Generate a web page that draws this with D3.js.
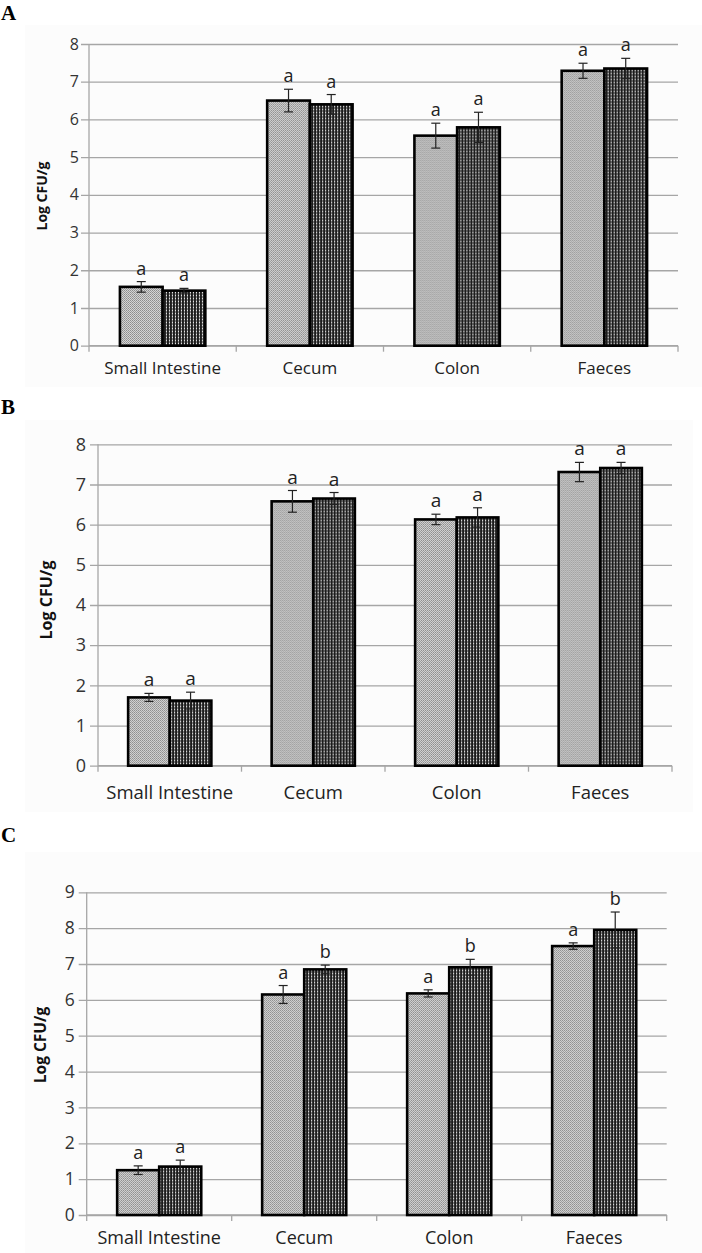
<!DOCTYPE html>
<html>
<head>
<meta charset="utf-8">
<script src="https://cdn.jsdelivr.net/npm/d3@7"></script>
<style>
  body { margin: 0; background: #fff; }
  svg { display: block; }
</style>
</head>
<body>
<div id="box"></div>
<script>
'use strict';

var categories = ["Small Intestine", "Cecum", "Colon", "Faeces"];
var series = ["s1", "s2"];

// panel A
var meansA = [[1.56, 1.46], [6.50, 6.40], [5.57, 5.79], [7.29, 7.35]];
var errA = [[0.14, 0.06], [0.30, 0.26], [0.33, 0.40], [0.20, 0.27]];
var lettersA = [["a", "a"], ["a", "a"], ["a", "a"], ["a", "a"]];
var ticksA = [0, 1, 2, 3, 4, 5, 6, 7, 8];

// panel B
var meansB = [[1.70, 1.62], [6.58, 6.65], [6.13, 6.18], [7.31, 7.41]];
var errB = [[0.10, 0.21], [0.27, 0.15], [0.13, 0.24], [0.24, 0.14]];
var lettersB = [["a", "a"], ["a", "a"], ["a", "a"], ["a", "a"]];
var ticksB = [0, 1, 2, 3, 4, 5, 6, 7, 8];

// panel C
var meansC = [[1.25, 1.35], [6.15, 6.85], [6.18, 6.91], [7.50, 7.95]];
var errC = [[0.12, 0.18], [0.25, 0.12], [0.10, 0.22], [0.09, 0.50]];
var lettersC = [["a", "a"], ["a", "b"], ["a", "b"], ["a", "b"]];
var ticksC = [0, 1, 2, 3, 4, 5, 6, 7, 8, 9];

var font = "'Open Sans', 'DejaVu Sans', sans-serif";

var svg = d3.select("#box")
  .append("svg")
    .attr("width", 702)
    .attr("height", 1253);

// bar fills
var defs = svg.append("defs");
var p1 = defs.append("pattern")
    .attr("id", "fill1")
    .attr("patternUnits", "userSpaceOnUse")
    .attr("width", 2).attr("height", 2);
p1.append("rect").attr("width", 2).attr("height", 2).attr("fill", "#dadada");
p1.append("rect").attr("width", 1).attr("height", 1).attr("fill", "#858585");
p1.append("rect").attr("x", 1).attr("y", 1).attr("width", 1).attr("height", 1).attr("fill", "#979797");

var p2 = defs.append("pattern")
    .attr("id", "fill2")
    .attr("patternUnits", "userSpaceOnUse")
    .attr("width", 3).attr("height", 3);
p2.append("rect").attr("width", 3).attr("height", 3).attr("fill", "#1c1c1c");
p2.append("rect").attr("x", 1).attr("width", 1).attr("height", 3).attr("fill", "#8c8c8c");
p2.append("rect").attr("x", 1).attr("y", 1).attr("width", 1).attr("height", 1).attr("fill", "#f2f2f2");

function drawPanel(cfg, means, errs, letters, ticks) {
  var g = svg.append("g");

  // faint chart area
  g.append("rect")
    .attr("x", cfg.bg[0]).attr("y", cfg.bg[1])
    .attr("width", cfg.bg[2]).attr("height", cfg.bg[3])
    .attr("fill", "#fcfcfc");

  // panel letter
  g.append("text")
    .attr("x", 1)
    .attr("y", cfg.labelY)
    .style("font-family", "'Liberation Serif', 'DejaVu Serif', serif")
    .style("font-weight", "bold")
    .style("font-size", "21px")
    .text(cfg.label);

  var y = d3.scaleLinear()
    .domain([0, ticks[ticks.length - 1]])
    .range([cfg.bottom, cfg.top]);

  var x0 = d3.scaleBand()
    .domain(categories)
    .range([cfg.left, cfg.right])
    .paddingInner(0.42)
    .paddingOuter(0.21);

  var x1 = d3.scaleBand()
    .domain(series)
    .range([0, x0.bandwidth()]);

  // gridlines + y ticks
  var yAxis = g.append("g")
    .attr("transform", "translate(" + cfg.left + ",0)")
    .call(d3.axisLeft(y)
      .tickValues(ticks)
      .tickSize(-(cfg.right - cfg.left))
      .tickPadding(10));
  yAxis.select(".domain").remove();
  yAxis.selectAll(".tick line")
    .attr("x1", -8)
    .attr("stroke", "#a6a6a6")
    .attr("stroke-width", 1.3);
  yAxis.selectAll(".tick text")
    .attr("x", -10 - cfg.tickGap)
    .style("font-family", font)
    .style("font-size", cfg.tickFont + "px")
    .attr("fill", "#333");

  // y axis line
  g.append("line")
    .attr("x1", cfg.left).attr("x2", cfg.left)
    .attr("y1", cfg.top).attr("y2", cfg.bottom + 6)
    .attr("stroke", "#a6a6a6")
    .attr("stroke-width", 1.3);

  // x axis with ticks at band edges
  g.append("line")
    .attr("x1", cfg.left).attr("x2", cfg.right)
    .attr("y1", cfg.bottom).attr("y2", cfg.bottom)
    .attr("stroke", "#a6a6a6")
    .attr("stroke-width", 1.3);
  var step = x0.step();
  g.selectAll(".xtick")
    .data(categories)
    .enter().append("line")
      .attr("x1", function(d) { return x0(d) - x0.paddingOuter() * step + step; })
      .attr("x2", function(d) { return x0(d) - x0.paddingOuter() * step + step; })
      .attr("y1", cfg.bottom)
      .attr("y2", cfg.bottom + 6)
      .attr("stroke", "#a6a6a6")
      .attr("stroke-width", 1.3);

  g.selectAll(".xlab")
    .data(categories)
    .enter().append("text")
      .attr("x", function(d) { return x0(d) + x0.bandwidth() / 2; })
      .attr("y", cfg.catY)
      .attr("text-anchor", "middle")
      .style("font-family", font)
      .style("font-size", cfg.catFont + "px")
      .attr("fill", "#222")
      .text(function(d) { return d; });

  // y title
  g.append("text")
    .attr("transform", "translate(" + cfg.titleX + "," + cfg.titleY + ") rotate(-90)")
    .attr("text-anchor", "middle")
    .style("font-family", font)
    .style("font-weight", "bold")
    .style("font-size", cfg.titleFont + "px")
    .attr("fill", "#111")
    .text("Log CFU/g");

  // bars
  var groups = g.selectAll(".grp")
    .data(categories)
    .enter().append("g")
      .attr("transform", function(d) { return "translate(" + x0(d) + ",0)"; });

  groups.selectAll("rect")
    .data(function(d, i) { return series.map(function(s, j) { return {s: s, v: means[i][j]}; }); })
    .enter().append("rect")
      .attr("x", function(d) { return x1(d.s); })
      .attr("y", function(d) { return y(d.v); })
      .attr("width", x1.bandwidth())
      .attr("height", function(d) { return y(0) - y(d.v); })
      .attr("fill", function(d, j) { return "url(#fill" + (j + 1) + ")"; })
      .attr("stroke", "#000")
      .attr("stroke-width", 2.6);

  // error bars
  var eb = groups.selectAll(".err")
    .data(function(d, i) { return series.map(function(s, j) { return {s: s, v: means[i][j], e: errs[i][j], l: letters[i][j]}; }); })
    .enter().append("g");
  eb.append("line")
    .attr("x1", function(d) { return x1(d.s) + x1.bandwidth() / 2; })
    .attr("x2", function(d) { return x1(d.s) + x1.bandwidth() / 2; })
    .attr("y1", function(d) { return y(d.v - d.e); })
    .attr("y2", function(d) { return y(d.v + d.e); })
    .attr("stroke", "#222")
    .attr("stroke-width", 1.2);
  [-1, 1].forEach(function(sign) {
    eb.append("line")
      .attr("x1", function(d) { return x1(d.s) + x1.bandwidth() / 2 - 4.5; })
      .attr("x2", function(d) { return x1(d.s) + x1.bandwidth() / 2 + 4.5; })
      .attr("y1", function(d) { return y(d.v + sign * d.e); })
      .attr("y2", function(d) { return y(d.v + sign * d.e); })
      .attr("stroke", "#222")
      .attr("stroke-width", 1.2);
  });
  eb.append("text")
    .attr("x", function(d) { return x1(d.s) + x1.bandwidth() / 2; })
    .attr("y", function(d) { return y(d.v + d.e) - 7; })
    .attr("text-anchor", "middle")
    .style("font-family", font)
    .style("font-size", cfg.letterFont + "px")
    .attr("fill", "#222")
    .text(function(d) { return d.l; });
}

drawPanel({label: "A", labelY: 20, bg: [25, 25, 677, 362],
  left: 89, right: 678, top: 44, bottom: 345.7,
  tickFont: 16, tickGap: 0, catFont: 17, catY: 374,
  titleX: 47, titleY: 196, titleFont: 14, letterFont: 18}, meansA, errA, lettersA, ticksA);

drawPanel({label: "B", labelY: 414, bg: [25, 420, 668, 392],
  left: 98, right: 672, top: 444.3, bottom: 765.7,
  tickFont: 18, tickGap: 2, catFont: 18.5, catY: 799,
  titleX: 52, titleY: 600, titleFont: 16, letterFont: 19}, meansB, errB, lettersB, ticksB);

drawPanel({label: "C", labelY: 842, bg: [25, 852, 677, 401],
  left: 86.7, right: 666.7, top: 892.3, bottom: 1215,
  tickFont: 17.5, tickGap: 2, catFont: 18, catY: 1244,
  titleX: 46, titleY: 1045, titleFont: 15.5, letterFont: 18}, meansC, errC, lettersC, ticksC);
</script>
</body>
</html>
